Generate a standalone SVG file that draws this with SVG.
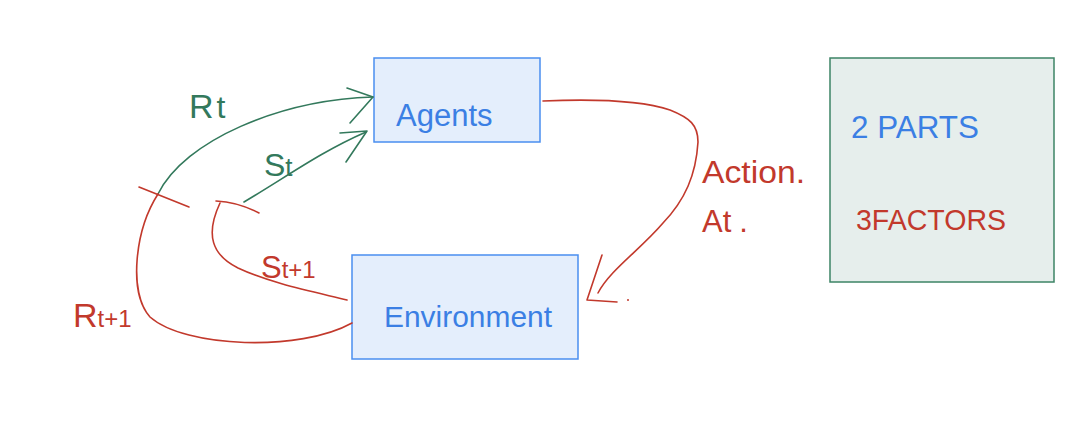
<svg xmlns="http://www.w3.org/2000/svg" width="1089" height="436" viewBox="0 0 1089 436">
<style>
.box{fill:#e4eefc;stroke:#4a8ef0;stroke-width:1.5}
.note{fill:#e6eeec;stroke:#3d8466;stroke-width:1.5}
.g{fill:none;stroke:#33795c;stroke-width:1.6;stroke-linecap:round;stroke-linejoin:round}
.r{fill:none;stroke:#c2392c;stroke-width:1.6;stroke-linecap:round;stroke-linejoin:round}
text{font-family:"Liberation Sans",Arial,sans-serif}
.tb{fill:#3b7fe4}
.tg{fill:#33795c}
.tr{fill:#c2392c}
</style>
<rect width="1089" height="436" fill="#ffffff"/>
<g id="agents">
<rect class="box" x="374" y="58" width="166" height="84"/>
<text class="tb" x="396" y="126" font-size="31">Agents</text>
</g>
<g id="environment">
<rect class="box" x="352" y="255" width="226" height="104"/>
<text class="tb" x="384" y="327" font-size="30" textLength="168" lengthAdjust="spacingAndGlyphs">Environment</text>
</g>
<g id="notes">
<rect class="note" x="830" y="58" width="224" height="224"/>
<text class="tb" x="851" y="138" font-size="31" textLength="128" lengthAdjust="spacingAndGlyphs">2 PARTS</text>
<text class="tr" x="856" y="230" font-size="29" textLength="150" lengthAdjust="spacingAndGlyphs">3FACTORS</text>
</g>
<g id="connectors">
<path class="g" d="M158,194 C185,140 280,100 373,97"/>
<path class="g" d="M347,88 L373,97 L350,123"/>
<path class="g" d="M244,202 C285,178 320,152 366,132"/>
<path class="g" d="M340,133 L367,131 L346,162"/>
<path class="r" d="M139,187 L189,207"/>
<path class="r" d="M216,201 Q238,202 259,213"/>
<path class="r" d="M158,194 C135,230 128,292 150,317 C185,348 300,352 352,323"/>
<path class="r" d="M220,203 C205,235 212,255 238,268 C270,283 310,291 347,300"/>
<path class="r" d="M543,101 C590,99 640,100 670,110 C690,118 698,125 698,142 C696,175 685,200 663,223 C640,250 610,270 598,293"/>
<path class="r" d="M602,255 L587,300 L617,302"/>
<circle cx="628" cy="300" r="1" fill="#c2392c"/>
</g>
<g id="labels">
<text class="tg" x="189" y="118" font-size="34">R<tspan font-size="32" dx="3">t</tspan></text>
<text class="tg" x="264" y="176" font-size="32">S<tspan font-size="26">t</tspan></text>
<text class="tr" x="261" y="278" font-size="31">S<tspan font-size="24">t+1</tspan></text>
<text class="tr" x="73" y="327" font-size="34">R<tspan font-size="24">t+1</tspan></text>
<text class="tr" x="702" y="183" font-size="31" textLength="103" lengthAdjust="spacingAndGlyphs">Action.</text>
<text class="tr" x="702" y="232" font-size="31">At<tspan dx="8">.</tspan></text>
</g>
</svg>
